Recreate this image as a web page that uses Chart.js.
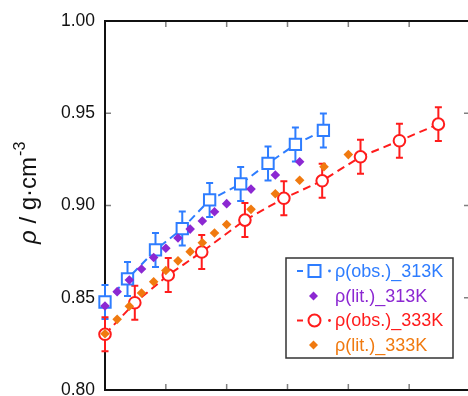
<!DOCTYPE html>
<html>
<head>
<meta charset="utf-8">
<script src="https://cdn.jsdelivr.net/npm/chart.js@4.4.1/dist/chart.umd.min.js"></script>
<style>
  html, body { margin: 0; padding: 0; background: #fff; overflow: hidden; }
  #chart { display: block; }
</style>
</head>
<body>
<canvas id="chart" width="480" height="400"></canvas>
<script>
// values (x in tick units, rho in g/cm3)
const xObs313 = [0, 0.37, 0.83, 1.27, 1.72, 2.23, 2.68, 3.13, 3.59];
const rhoObs313 = [0.8477, 0.8602, 0.8759, 0.8875, 0.9030, 0.9117, 0.9228, 0.9331, 0.9407];
const errObs313 = [0.0092, 0.0092, 0.0092, 0.0092, 0.0092, 0.0092, 0.0092, 0.0092, 0.0092];

const xObs333 = [0, 0.49, 1.04, 1.59, 2.30, 2.94, 3.57, 4.20, 4.84, 5.48];
const rhoObs333 = [0.8302, 0.8473, 0.8623, 0.8748, 0.8921, 0.9039, 0.9134, 0.9264, 0.9351, 0.9441];
const errObs333 = [0.0092, 0.0092, 0.0092, 0.0092, 0.0092, 0.0092, 0.0092, 0.0092, 0.0092, 0.0092];

const xLit = [0, 0.2, 0.4, 0.6, 0.8, 1.0, 1.2, 1.4, 1.6, 1.8, 2.0, 2.4, 2.8, 3.2, 3.6, 4.0];
const rhoLit313 = [0.8455, 0.8533, 0.8596, 0.8656, 0.8718, 0.8768, 0.8824, 0.8872, 0.8916, 0.8966, 0.9010, 0.9089, 0.9165, 0.9237];
const rhoLit333 = [0.8305, 0.8383, 0.8454, 0.8526, 0.8587, 0.8648, 0.8700, 0.8750, 0.8798, 0.8851, 0.8897, 0.8979, 0.9064, 0.9137, 0.9210, 0.9276];

const xTicks = [0, 1, 2, 3, 4, 5, 6];
const yTicks = [0.80, 0.85, 0.90, 0.95, 1.00];
const seriesNames = ['ρ(obs.)_313K', 'ρ(lit.)_313K', 'ρ(obs.)_333K', 'ρ(lit.)_333K'];

const BLUE = '#2e7dff';
const PURPLE = '#8c28d2';
const RED = '#ff1c1c';
const ORANGE = '#f07a10';
const FONT = '"Liberation Sans", Arial, sans-serif';

const toPoints = (xs, ys) => ys.map((y, i) => ({ x: xs[i], y: y }));

// frame + inward ticks, drawn under the data
const frame = {
  id: 'frame',
  beforeDatasetsDraw(chart) {
    const { ctx, chartArea: a, scales } = chart;
    ctx.save();
    ctx.strokeStyle = '#808080';
    ctx.lineWidth = 1.5;
    ctx.beginPath();
    xTicks.forEach(v => {
      const px = scales.x.getPixelForValue(v);
      ctx.moveTo(px, a.top); ctx.lineTo(px, a.top + 6);
      ctx.moveTo(px, a.bottom); ctx.lineTo(px, a.bottom - 6);
    });
    yTicks.forEach(v => {
      const py = scales.y.getPixelForValue(v);
      ctx.moveTo(a.left, py); ctx.lineTo(a.left + 6, py);
      ctx.moveTo(a.right, py); ctx.lineTo(a.right - 6, py);
    });
    ctx.stroke();
    ctx.strokeStyle = '#111';
    ctx.lineWidth = 2;
    ctx.strokeRect(a.left, a.top, a.right - a.left, a.bottom - a.top);
    ctx.restore();
  }
};

const errorBars = {
  id: 'errorBars',
  beforeDatasetsDraw(chart) {
    const { ctx, scales } = chart;
    chart.data.datasets.forEach(ds => {
      if (!ds.errors) return;
      ctx.save();
      ctx.strokeStyle = ds.borderColor;
      ctx.lineWidth = 2;
      ctx.beginPath();
      ds.data.forEach((p, i) => {
        const px = scales.x.getPixelForValue(p.x);
        const top = scales.y.getPixelForValue(p.y + ds.errors[i]);
        const bot = scales.y.getPixelForValue(p.y - ds.errors[i]);
        ctx.moveTo(px, top); ctx.lineTo(px, bot);
        ctx.moveTo(px - 3.5, top); ctx.lineTo(px + 3.5, top);
        ctx.moveTo(px - 3.5, bot); ctx.lineTo(px + 3.5, bot);
      });
      ctx.stroke();
      ctx.restore();
    });
  }
};

const yTitle = {
  id: 'yTitle',
  afterDraw(chart) {
    const ctx = chart.ctx;
    ctx.save();
    ctx.translate(36, 244);
    ctx.rotate(-Math.PI / 2);
    ctx.fillStyle = '#111';
    ctx.textBaseline = 'alphabetic';
    ctx.textAlign = 'left';
    ctx.font = 'italic 24px ' + FONT;
    ctx.fillText('ρ', 0, 0);
    let w = ctx.measureText('ρ').width;
    ctx.font = '24px ' + FONT;
    ctx.fillText(' / g·cm', w, 0);
    w += ctx.measureText(' / g·cm').width;
    ctx.font = '16px ' + FONT;
    ctx.fillText('-3', w + 1, -11);
    ctx.restore();
  }
};

const legendBox = {
  id: 'legendBox',
  afterDraw(chart) {
    const ctx = chart.ctx;
    const colors = [BLUE, PURPLE, RED, ORANGE];
    const rows = [271, 296, 320.5, 345];
    ctx.save();
    ctx.fillStyle = '#fff';
    ctx.fillRect(286, 258, 167, 100);
    ctx.strokeStyle = '#333';
    ctx.lineWidth = 1.5;
    ctx.strokeRect(286, 258, 167, 100);
    ctx.font = '18px ' + FONT;
    ctx.textBaseline = 'middle';
    seriesNames.forEach((name, i) => {
      const y = rows[i];
      const c = colors[i];
      ctx.strokeStyle = c;
      ctx.fillStyle = c;
      ctx.lineWidth = 2;
      if (i === 0 || i === 2) {
        ctx.beginPath();
        ctx.moveTo(297, y); ctx.lineTo(303, y);
        ctx.stroke();
        ctx.beginPath();
        if (i === 0) ctx.rect(308.5, y - 6, 12, 12);
        else ctx.arc(314.5, y, 6, 0, Math.PI * 2);
        ctx.fillStyle = '#fff';
        ctx.fill();
        ctx.stroke();
        ctx.fillStyle = c;
        ctx.beginPath();
        ctx.arc(329.5, y, 1.4, 0, Math.PI * 2);
        ctx.fill();
      } else {
        ctx.beginPath();
        ctx.moveTo(313.5, y - 4.5); ctx.lineTo(318, y);
        ctx.lineTo(313.5, y + 4.5); ctx.lineTo(309, y);
        ctx.closePath();
        ctx.fill();
      }
      ctx.fillText(name, 335, y + 1);
    });
    ctx.restore();
  }
};

document.addEventListener('DOMContentLoaded', () => {
  const ctx = document.getElementById('chart').getContext('2d');
  new Chart(ctx, {
    type: 'scatter',
    data: {
      datasets: [
        {
          label: seriesNames[1],
          data: toPoints(xLit, rhoLit313),
          pointStyle: 'rectRot',
          pointRadius: 4.8,
          pointBorderWidth: 0,
          backgroundColor: PURPLE,
          borderColor: PURPLE,
          showLine: false,
          clip: false,
          order: 0
        },
        {
          label: seriesNames[3],
          data: toPoints(xLit, rhoLit333),
          pointStyle: 'rectRot',
          pointRadius: 4.8,
          pointBorderWidth: 0,
          backgroundColor: ORANGE,
          borderColor: ORANGE,
          showLine: false,
          clip: false,
          order: 0
        },
        {
          label: seriesNames[0],
          data: toPoints(xObs313, rhoObs313),
          errors: errObs313,
          showLine: true,
          borderColor: BLUE,
          borderWidth: 2,
          borderDash: [8, 5],
          pointStyle: 'rect',
          pointRadius: 8,
          pointBorderWidth: 2,
          pointBorderColor: BLUE,
          pointBackgroundColor: '#fff',
          clip: false,
          order: 2
        },
        {
          label: seriesNames[2],
          data: toPoints(xObs333, rhoObs333),
          errors: errObs333,
          showLine: true,
          borderColor: RED,
          borderWidth: 2,
          borderDash: [8, 5],
          pointStyle: 'circle',
          pointRadius: 5.8,
          pointBorderWidth: 2,
          pointBorderColor: RED,
          pointBackgroundColor: '#fff',
          clip: false,
          order: 1
        }
      ]
    },
    options: {
      responsive: false,
      animation: false,
      devicePixelRatio: 1,
      layout: { padding: { left: 0, top: 21, right: 6, bottom: 10 } },
      plugins: {
        legend: { display: false },
        tooltip: { enabled: false }
      },
      scales: {
        x: {
          type: 'linear',
          display: false,
          min: xTicks[0],
          max: xTicks[xTicks.length - 1]
        },
        y: {
          type: 'linear',
          min: yTicks[0],
          max: yTicks[yTicks.length - 1],
          afterBuildTicks: (scale) => { scale.ticks = yTicks.map(v => ({ value: v })); },
          afterFit: (scale) => {
            scale.width = 105;
            scale.paddingTop = 0;
            scale.paddingBottom = 0;
          },
          grid: { display: false, drawTicks: false },
          border: { display: false },
          ticks: {
            padding: 10,
            color: '#111',
            font: { family: FONT, size: 17.5 },
            callback: (v) => v.toFixed(2)
          }
        }
      }
    },
    plugins: [frame, errorBars, yTitle, legendBox]
  });
});
</script>
</body>
</html>
